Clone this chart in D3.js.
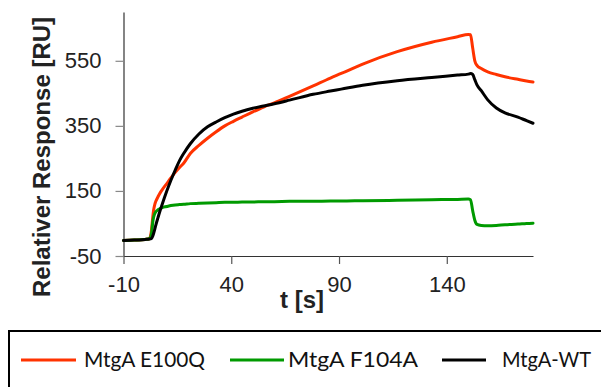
<!DOCTYPE html>
<html>
<head>
<meta charset="utf-8">
<script src="https://cdn.jsdelivr.net/npm/d3@7"></script>
<style>
  html, body { margin: 0; padding: 0; background: #fff; }
  svg { display: block; }
</style>
</head>
<body>
<svg id="chart" width="601" height="387"></svg>
<script>
// Sensorgram: time (s) and response (RU) for three MtgA variants
const timeS = [-10, -5, 0, 2, 3, 3.5, 4, 4.5, 5, 6, 7, 8, 10, 12, 14, 16, 18, 21, 25, 29, 33, 37, 41, 45, 50, 55, 60, 67, 78, 86, 91, 101, 117, 133, 145, 150, 151, 152, 153, 154, 156, 159, 163, 167, 173, 177, 180];

const e100q = [-2, -1, 1, 3, 30, 65, 92, 108, 118, 132, 144, 154, 172, 190, 207, 222, 236, 265, 290, 312, 332, 350, 364, 377, 393, 408, 421, 441, 473, 497, 511, 540, 578, 607, 624, 631, 630, 590, 550, 536, 526, 516, 508, 501, 493, 488, 485];

const f104a = [-2, -1, 1, 3, 20, 50, 70, 80, 86, 92, 96, 99, 102, 105, 107, 108, 109, 111, 112, 113, 114, 115, 115, 116, 116, 117, 117, 118, 118, 119, 119, 120, 121, 123, 124, 125, 123, 90, 60, 47, 44, 43, 44, 46, 48, 50, 51];

const wildType = [-2, -1, 1, 2, 4, 10, 20, 32, 45, 68, 90, 110, 148, 183, 214, 243, 266, 295, 325, 347, 362, 375, 386, 395, 404, 411, 418, 429, 447, 457, 463, 475, 489, 499, 506, 509, 511, 508, 492, 476, 458, 430, 405, 390, 377, 366, 358];

const seriesNames = ["MtgA E100Q", "MtgA F104A", "MtgA-WT"];
const seriesColors = ["#ff3300", "#009a00", "#000000"];
const xTicks = [-10, 40, 90, 140];
const yTicks = [-50, 150, 350, 550];

const svg = d3.select("#chart");

const x = d3.scaleLinear().domain([-10, 180]).range([123.5, 533]);
const y = d3.scaleLinear().domain([-50, 700]).range([256, 12]);

const plainNumber = d => String(d);

// Axes
const yAxis = d3.axisLeft(y).tickValues(yTicks).tickFormat(plainNumber)
  .tickSize(8).tickSizeOuter(0).tickPadding(14);
const gy = svg.append("g").attr("transform", `translate(${x(-10)},0)`).call(yAxis);
gy.select(".domain").attr("stroke", "#333").attr("stroke-width", 1.2);
gy.selectAll(".tick line").attr("stroke", "#888").attr("stroke-width", 1.2);
gy.selectAll(".tick text")
  .attr("font-family", "Arial, 'Liberation Sans', sans-serif")
  .attr("font-size", 22).attr("fill", "#222");

const xAxis = d3.axisBottom(x).tickValues(xTicks).tickFormat(plainNumber)
  .tickSize(8).tickSizeOuter(0).tickPadding(12);
const gx = svg.append("g").attr("transform", `translate(0,${y(-50)})`).call(xAxis);
gx.select(".domain").attr("stroke", "#333").attr("stroke-width", 1.2);
gx.selectAll(".tick line").attr("stroke", "#555").attr("stroke-width", 1.2);
gx.selectAll(".tick text")
  .attr("font-family", "Arial, 'Liberation Sans', sans-serif")
  .attr("font-size", 22).attr("fill", "#222");

// Axis titles
svg.append("text")
  .attr("transform", `translate(50,157) rotate(-90)`)
  .attr("text-anchor", "middle")
  .attr("font-family", "Arial, 'Liberation Sans', sans-serif")
  .attr("font-weight", "bold").attr("font-size", 24).attr("fill", "#222")
  .text("Relativer Response [RU]");

svg.append("text")
  .attr("x", 280).attr("y", 308)
  .attr("font-family", "Arial, 'Liberation Sans', sans-serif")
  .attr("font-weight", "bold").attr("font-size", 24).attr("fill", "#222")
  .text("t [s]");

// Curves
const allSeries = [e100q, f104a, wildType];
const line = d3.line()
  .x((d, i) => x(timeS[i]))
  .y(d => y(d))
  .curve(d3.curveMonotoneX);

svg.append("g").selectAll("path")
  .data(allSeries)
  .join("path")
  .attr("d", d => line(d))
  .attr("fill", "none")
  .attr("stroke", (d, i) => seriesColors[i])
  .attr("stroke-width", 3)
  .attr("stroke-linejoin", "round")
  .attr("stroke-linecap", "round");

// Legend box
svg.append("rect")
  .attr("x", 9).attr("y", 331).attr("width", 640).attr("height", 100)
  .attr("fill", "none").attr("stroke", "#000").attr("stroke-width", 2);

const legendItems = [
  { x1: 21, x2: 76, tx: 84, w: 121 },
  { x1: 230, x2: 284, tx: 288, w: 130 },
  { x1: 442, x2: 486, tx: 502, w: 89 }
];
const lg = svg.append("g").selectAll("g")
  .data(seriesNames)
  .join("g");
lg.append("line")
  .attr("x1", (d, i) => legendItems[i].x1).attr("x2", (d, i) => legendItems[i].x2)
  .attr("y1", 360).attr("y2", 360)
  .attr("stroke", (d, i) => seriesColors[i]).attr("stroke-width", 3);
lg.append("text")
  .attr("x", (d, i) => legendItems[i].tx).attr("y", 367)
  .attr("font-family", "Lato, 'Open Sans', sans-serif")
  .attr("font-size", 21).attr("fill", "#111")
  .attr("textLength", (d, i) => legendItems[i].w)
  .attr("lengthAdjust", "spacingAndGlyphs")
  .text(d => d);
</script>
</body>
</html>
